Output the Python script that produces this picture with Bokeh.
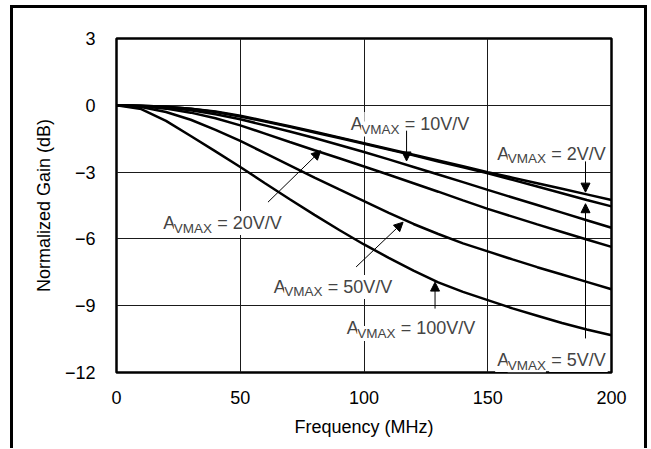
from bokeh.plotting import figure
from bokeh.models import Range1d, FixedTicker, Label, Arrow, NormalHead
from bokeh.embed import file_html
from bokeh.resources import INLINE

# ---- data ----
freq = [0, 10, 20, 30, 40, 50, 60, 70, 80, 90, 100, 110, 120, 130, 140, 150, 160, 170, 180, 190, 200]
gain_2 = [0, -0.02, -0.07, -0.15, -0.28, -0.47, -0.70, -0.94, -1.19, -1.44, -1.70, -1.96, -2.22, -2.48, -2.74, -3.00, -3.25, -3.50, -3.75, -4.00, -4.25]
gain_5 = [0, -0.02, -0.07, -0.16, -0.30, -0.50, -0.73, -0.97, -1.22, -1.47, -1.73, -1.99, -2.25, -2.52, -2.78, -3.05, -3.35, -3.65, -3.95, -4.25, -4.54]
gain_10 = [0, -0.03, -0.10, -0.22, -0.40, -0.63, -0.90, -1.18, -1.47, -1.78, -2.10, -2.43, -2.77, -3.11, -3.45, -3.80, -4.14, -4.48, -4.82, -5.16, -5.50]
gain_20 = [0, -0.04, -0.15, -0.33, -0.58, -0.90, -1.27, -1.65, -2.02, -2.38, -2.75, -3.12, -3.50, -3.88, -4.27, -4.65, -5.00, -5.35, -5.69, -6.03, -6.36]
gain_50 = [0, -0.08, -0.30, -0.65, -1.10, -1.60, -2.15, -2.70, -3.25, -3.78, -4.30, -4.83, -5.33, -5.78, -6.20, -6.56, -6.92, -7.27, -7.60, -7.93, -8.26]
gain_100 = [0, -0.17, -0.70, -1.38, -2.07, -2.77, -3.50, -4.22, -4.92, -5.60, -6.25, -6.85, -7.42, -7.95, -8.38, -8.75, -9.12, -9.45, -9.78, -10.07, -10.33]
series = [gain_2, gain_5, gain_10, gain_20, gain_50, gain_100]

x_ticks = [0, 50, 100, 150, 200]
y_ticks = [-12, -9, -6, -3, 0, 3]
y_tick_labels = ["\u221212", "\u22129", "\u22126", "\u22123", "0", "3"]

# annotation labels: gain text, anchor (MHz, dB)
label_texts = ["10V/V", "2V/V", "20V/V", "50V/V", "100V/V", "5V/V"]
label_x = [93.8, 153.0, 18.1, 62.7, 92.2, 153.0]
label_y = [-0.84, -2.17, -5.29, -8.16, -10.02, -11.44]

# arrows: (x_start, y_start, x_end, y_end) in data units
arrow_x0 = [117.2, 189.5, 189.5, 61.2, 96.8, 128.7]
arrow_y0 = [-1.14, -2.52, -10.47, -4.35, -7.26, -9.13]
arrow_x1 = [117.2, 189.5, 189.5, 82.5, 115.8, 128.7]
arrow_y1 = [-2.50, -3.90, -4.42, -2.04, -5.25, -7.94]

FONT = "Liberation Sans"
FS = "18px"

p = figure(frame_width=495, frame_height=334,
           x_range=Range1d(0, 200), y_range=Range1d(-12, 3),
           output_backend="svg", toolbar_location=None,
           min_border_left=103, min_border_right=33,
           min_border_top=30, min_border_bottom=76)

# outer page frame (open at the bottom, like the reference)
p.margin = (5, 0, 0, 10)
p.styles = {"border-left": "3px solid black", "border-top": "3px solid black",
            "border-right": "3px solid black"}

p.background_fill_color = "white"
p.border_fill_color = "white"
p.outline_line_color = "black"
p.outline_line_width = 2.5

for s in series:
    p.line(freq, s, line_color="black", line_width=2.5)

p.xaxis.ticker = FixedTicker(ticks=x_ticks)
p.yaxis.ticker = FixedTicker(ticks=y_ticks)
p.yaxis.major_label_overrides = {t: l for t, l in zip(y_ticks, y_tick_labels)}

for ax in (p.xaxis[0], p.yaxis[0]):
    ax.axis_line_color = None
    ax.major_tick_line_color = None
    ax.minor_tick_line_color = None
    ax.major_label_text_font = FONT
    ax.major_label_text_font_size = FS
    ax.major_label_text_color = "black"
    ax.axis_label_text_font = FONT
    ax.axis_label_text_font_size = FS
    ax.axis_label_text_font_style = "normal"
    ax.axis_label_text_color = "black"

p.xaxis.axis_label = "Frequency (MHz)"
p.yaxis.axis_label = "Normalized Gain (dB)"
p.xaxis.major_label_standoff = 12
p.yaxis.major_label_standoff = 15
p.xaxis.axis_label_standoff = 10
p.yaxis.axis_label_standoff = 8

for g in (p.xgrid[0], p.ygrid[0]):
    g.grid_line_color = "#1a1a1a"
    g.grid_line_width = 1

# labels with subscript
for txt, lx, ly in zip(label_texts, label_x, label_y):
    p.add_layout(Label(x=lx, y=ly, text="A", text_font=FONT, text_font_size=FS,
                       text_baseline="alphabetic", background_fill_color="white", padding=2))
    p.add_layout(Label(x=lx, y=ly, text="VMAX", text_font=FONT, text_font_size="13.5px",
                       x_offset=12.5, y_offset=-5, text_baseline="alphabetic",
                       background_fill_color="white", padding=0))
    p.add_layout(Label(x=lx, y=ly, text="= " + txt, text_font=FONT, text_font_size=FS,
                       x_offset=54, text_baseline="alphabetic",
                       background_fill_color="white", padding=2))

for xs, ys, xe, ye in zip(arrow_x0, arrow_y0, arrow_x1, arrow_y1):
    p.add_layout(Arrow(end=NormalHead(size=9, fill_color="black", line_color="black", line_width=1),
                       x_start=xs, y_start=ys, x_end=xe, y_end=ye,
                       line_color="black", line_width=1))

open("out.html", "w").write(file_html(p, INLINE))
